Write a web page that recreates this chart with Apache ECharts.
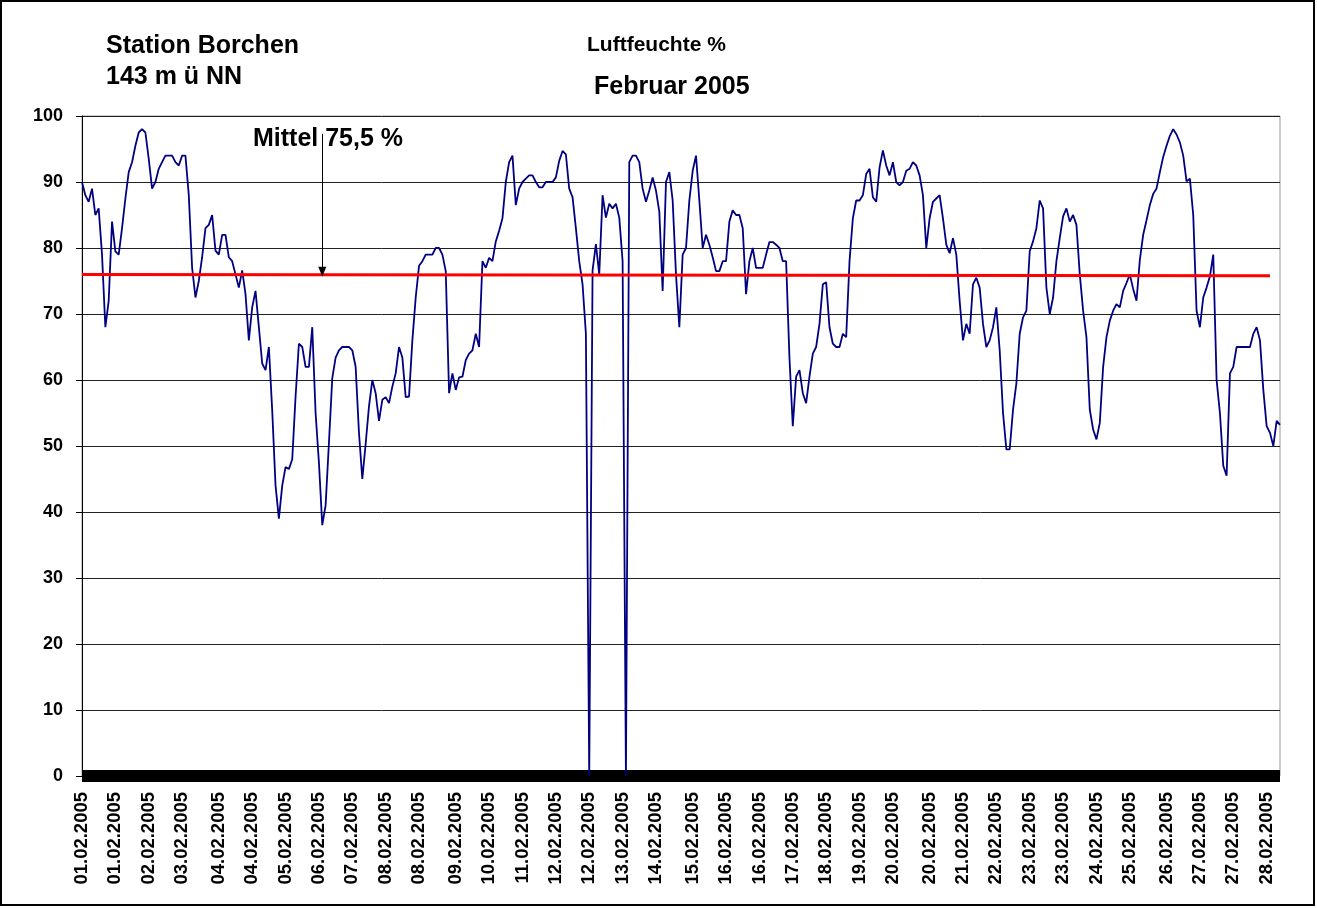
<!DOCTYPE html>
<html>
<head>
<meta charset="utf-8">
<script src="https://cdn.jsdelivr.net/npm/echarts@6/dist/echarts.min.js"></script>
<style>
  html, body { margin: 0; padding: 0; background: #fff; }
  #chart { width: 1317px; height: 908px; }
</style>
</head>
<body>
<div id="chart"></div>
<script>
// Luftfeuchte in %, Februar 2005, gelesen aus der Grafik (gleichmaessige Abstaende)
const humidityWeek1 = [
  90, 88, 87, 89, 85, 86, 79, 68, 72, 84,
  79.5, 79, 83, 87.5, 91.5, 93, 95.5, 97.5, 98, 97.5,
  93.5, 89, 90, 92, 93, 94, 94, 94, 93, 92.5,
  94, 94, 88, 77, 72.5, 75, 78.6, 83, 83.5, 85,
  79.6, 79, 82, 82, 78.6, 78, 76, 74, 76.6, 73,
  66, 71, 73.5, 68, 62.5, 61.5, 65, 55.4, 44, 39
]
const humidityWeek2 = [
  44, 46.8, 46.5, 48, 57.5, 65.5, 65, 62, 62, 68,
  55, 47.5, 38, 41, 50.5, 60.3, 63.4, 64.5, 65, 65,
  65, 64.5, 62, 52, 45, 50.3, 56, 60, 58, 53.8,
  57, 57.4, 56.5, 59, 61, 65, 63.4, 57.4, 57.5, 66,
  72.5, 77.3, 78, 79, 79, 79, 80, 80, 79, 76.5,
  58, 61, 58.5, 60.4, 60.5, 63, 64, 64.5, 67, 65
]
const humidityWeek3 = [
  78, 77, 78.5, 78, 81, 82.6, 84.5, 90, 93, 94,
  86.5, 89, 90, 90.5, 91, 91, 90, 89.2, 89.2, 90,
  90, 90, 90.7, 93.2, 94.7, 94.2, 89, 87.7, 83, 78,
  74.5, 67, 0, 76.6, 80.6, 76, 88, 84.6, 86.7, 86,
  86.7, 84.6, 78, 0, 93, 94, 94, 93, 89, 87,
  88.7, 90.7, 88.7, 85.5, 73.5, 90, 91.5, 87.2, 76, 68
]
const humidityWeek4 = [
  79, 80, 87.2, 91.7, 94, 87.2, 80, 82, 80.5, 78.6,
  76.5, 76.5, 78, 78, 84, 85.7, 85, 85, 83, 73,
  78, 80, 77, 77, 77, 79, 80.9, 80.9, 80.5, 80,
  78, 78, 63.4, 53, 60.5, 61.5, 58, 56.5, 60.5, 64,
  65, 68.5, 74.5, 74.8, 68, 65.5, 65, 65, 67, 66.5,
  78, 84.5, 87.2, 87.2, 88, 91.2, 92, 87.7, 87, 92.2
]
const humidityWeek5 = [
  94.8, 92.5, 91, 93, 90, 89.5, 90, 91.7, 92, 93,
  92.5, 91, 88, 80, 84.5, 87, 87.5, 88, 84.5, 80.5,
  79.2, 81.5, 79, 72, 66, 68.5, 67, 74.5, 75.5, 74,
  68.5, 65, 66, 68, 71, 64.5, 55, 49.5, 49.5, 55.5,
  59.5, 67, 69.5, 70.5, 79.5, 81, 83, 87.2, 86, 74,
  70, 72.5, 78, 81.5, 84.8, 86, 84, 85, 83.5, 76
]
const humidityWeek6 = [
  70.5, 66.5, 55.5, 52.5, 51, 53.5, 62, 66.5, 69, 70.5,
  71.5, 71, 73.5, 74.7, 76, 73.8, 72, 78.2, 82, 84.2,
  86.5, 88.2, 89, 91.5, 93.8, 95.5, 97, 98, 97.2, 96,
  94, 90.1, 90.5, 85, 70.5, 68, 72.5, 74, 75.7, 79,
  60, 55, 47, 45.5, 61, 62, 65, 65, 65, 65,
  65, 67, 68, 66, 58.5, 53, 52, 50, 53.8, 53.2
]
const humidity = [].concat(humidityWeek1, humidityWeek2, humidityWeek3,
  humidityWeek4, humidityWeek5, humidityWeek6)

// Mittelwert-Linie (Anfang/Ende) und Pfeil
const meanLine = [76.0, 75.8]
const meanEndIndex = 356
const arrowFrom = [72, 97.3]
const arrowTo = [72, 76.4]

// Beschriftung der x-Achse
const tickLabels = [
  '01.02.2005', '01.02.2005', '02.02.2005', '03.02.2005', '04.02.2005', '04.02.2005',
  '05.02.2005', '06.02.2005', '07.02.2005', '08.02.2005', '08.02.2005', '09.02.2005',
  '10.02.2005', '11.02.2005', '12.02.2005', '12.02.2005', '13.02.2005', '14.02.2005',
  '15.02.2005', '16.02.2005', '16.02.2005', '17.02.2005', '18.02.2005', '19.02.2005',
  '20.02.2005', '20.02.2005', '21.02.2005', '22.02.2005', '23.02.2005', '23.02.2005',
  '24.02.2005', '25.02.2005', '26.02.2005', '27.02.2005', '27.02.2005', '28.02.2005'
]
const lastLabelIndex = 355

const FONT = '"Liberation Sans", Arial, sans-serif'
const categories = humidity.map((v, i) => i)
const labelAt = {}
tickLabels.forEach((t, i) => {
  labelAt[Math.round(i * lastLabelIndex / (tickLabels.length - 1))] = t
})

const chart = echarts.init(document.getElementById('chart'))

chart.setOption({
  animation: false,
  backgroundColor: '#fff',
  grid: {
    left: 82, right: 37, top: 116, bottom: 132,
    show: true, borderColor: '#999', borderWidth: 1
  },
  xAxis: {
    type: 'category',
    data: categories,
    boundaryGap: false,
    axisLine: { lineStyle: { color: '#000', width: 12, cap: 'butt' } },
    axisTick: { show: false },
    splitLine: { show: false },
    axisLabel: {
      interval: (idx) => labelAt[idx] !== undefined,
      formatter: (val, idx) => labelAt[idx] || '',
      rotate: 90,
      margin: 16,
      color: '#000',
      fontFamily: FONT,
      fontWeight: 'bold',
      fontSize: 18.5
    }
  },
  yAxis: {
    type: 'value',
    min: 0, max: 100, interval: 10,
    axisLine: { show: true, lineStyle: { color: '#000', width: 1 } },
    axisTick: { show: true, length: 6, lineStyle: { color: '#000' } },
    axisLabel: {
      margin: 19, color: '#000', fontFamily: FONT, fontWeight: 'bold', fontSize: 18
    },
    splitLine: { lineStyle: { color: '#222', width: 1 } }
  },
  series: [
    {
      name: 'Luftfeuchte',
      type: 'line',
      data: humidity,
      showSymbol: false,
      lineStyle: { color: '#000080', width: 1.8 },
      z: 3
    },
    {
      name: 'Mittel',
      type: 'line',
      data: [[0, meanLine[0]], [meanEndIndex, meanLine[1]]],
      showSymbol: false,
      lineStyle: { color: '#ff0000', width: 3 },
      z: 4,
      markLine: {
        silent: true,
        symbol: ['none', 'triangle'],
        symbolSize: [8, 10],
        label: { show: false },
        lineStyle: { color: '#000', width: 1, type: 'solid' },
        data: [[{ coord: arrowFrom }, { coord: arrowTo }]]
      }
    }
  ],
  graphic: [
    {
      type: 'rect', silent: true,
      shape: { x: 1, y: 1, width: 1313, height: 904 },
      style: { fill: 'none', stroke: '#000', lineWidth: 2 }
    },
    { type: 'text', left: 106, top: 34, style: { text: 'Station Borchen', font: 'bold 25px ' + FONT, fill: '#000' } },
    { type: 'text', left: 106, top: 65, style: { text: '143 m ü NN', font: 'bold 25px ' + FONT, fill: '#000' } },
    { type: 'text', left: 587, top: 35, style: { text: 'Luftfeuchte %', font: 'bold 21px ' + FONT, fill: '#000' } },
    { type: 'text', left: 594, top: 75, style: { text: 'Februar 2005', font: 'bold 25px ' + FONT, fill: '#000' } },
    { type: 'text', left: 253, top: 127, style: { text: 'Mittel 75,5 %', font: 'bold 25px ' + FONT, fill: '#000' } }
  ]
})
</script>
</body>
</html>
